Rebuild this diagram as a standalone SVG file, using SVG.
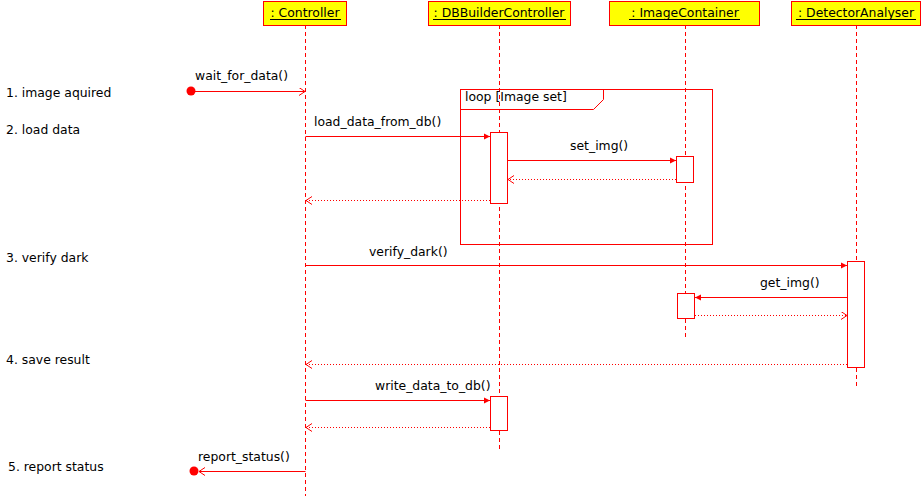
<svg xmlns="http://www.w3.org/2000/svg" width="923" height="496" viewBox="0 0 923 496">
<style>
text{font-family:"DejaVu Sans","Liberation Sans",sans-serif;font-size:12.4px;fill:#000}
.hd{fill:#ffff00;stroke:#ff0000;stroke-width:1}
.ul{stroke:#000;stroke-width:1}
.life{stroke:#ff0000;stroke-width:1;stroke-dasharray:4,3;fill:none}
.act{fill:#fff;stroke:#ff0000;stroke-width:1}
.msg{stroke:#ff0000;stroke-width:1;fill:none}
.ret{stroke:#ff0000;stroke-width:1;stroke-dasharray:1,2;fill:none}
.frame{fill:none;stroke:#ff0000;stroke-width:1}
</style>
<defs>
<marker id="fa" markerWidth="7" markerHeight="7" refX="6" refY="3.5" orient="auto" markerUnits="userSpaceOnUse"><path d="M0,0.5 L6,3.5 L0,6.5 z" fill="#ff0000"/></marker>
<marker id="oa" markerWidth="8" markerHeight="9" refX="6" refY="4" orient="auto" markerUnits="userSpaceOnUse"><path d="M0,0 L6,4 L0,8" fill="none" stroke="#ff0000" stroke-width="1"/></marker>
</defs>
<rect width="923" height="496" fill="#fff"/>

<g id="lifelines">
<line class="life" x1="305.5" y1="25" x2="305.5" y2="496"/>
<line class="life" x1="499.5" y1="25" x2="499.5" y2="449"/>
<line class="life" x1="685.5" y1="25" x2="685.5" y2="338"/>
<line class="life" x1="856.5" y1="25" x2="856.5" y2="387"/>
</g>

<g id="loop">
<rect class="frame" x="460.5" y="89.5" width="252" height="155"/>
<path class="frame" d="M460.5,109.5 H593.5 L603.5,99.5 V89.5"/>
<text x="465" y="101">loop [Image set]</text>
</g>

<g id="Controller">
<rect class="hd" x="263.5" y="1.5" width="83" height="24"/>
<text x="305" y="17" text-anchor="middle"> : Controller</text>
<line class="ul" x1="270" y1="19.5" x2="341" y2="19.5"/>
</g>
<g id="DBBuilderController">
<rect class="hd" x="428.5" y="1.5" width="142" height="24"/>
<text x="499" y="17" text-anchor="middle"> : DBBuilderController</text>
<line class="ul" x1="433" y1="19.5" x2="566" y2="19.5"/>
</g>
<g id="ImageContainer">
<rect class="hd" x="609.5" y="1.5" width="150" height="24"/>
<text x="685" y="17" text-anchor="middle"> : ImageContainer</text>
<line class="ul" x1="629" y1="19.5" x2="740" y2="19.5"/>
</g>
<g id="DetectorAnalyser">
<rect class="hd" x="791.5" y="1.5" width="129" height="24"/>
<text x="856" y="17" text-anchor="middle"> : DetectorAnalyser</text>
<line class="ul" x1="796" y1="19.5" x2="916" y2="19.5"/>
</g>

<g id="activations">
<rect class="act" x="490.5" y="132.5" width="17" height="71"/>
<rect class="act" x="676.5" y="156.5" width="17" height="26"/>
<rect class="act" x="847.5" y="261.5" width="17" height="106"/>
<rect class="act" x="677.5" y="293.5" width="17" height="25"/>
<rect class="act" x="490.5" y="396.5" width="17" height="34"/>
</g>

<g id="connectors">
<circle cx="191" cy="91" r="4.5" fill="#ff0000"/>
<line class="msg" x1="191" y1="91.5" x2="305" y2="91.5" marker-end="url(#oa)"/>
<text x="195" y="80">wait_for_data()</text>

<line class="msg" x1="305.5" y1="136.5" x2="490" y2="136.5" marker-end="url(#fa)"/>
<text x="314" y="126">load_data_from_db()</text>

<line class="msg" x1="507.5" y1="160.5" x2="676" y2="160.5" marker-end="url(#fa)"/>
<text x="570" y="150">set_img()</text>

<line class="ret" x1="676" y1="179.5" x2="508" y2="179.5" marker-end="url(#oa)"/>
<line class="ret" x1="490" y1="200.5" x2="306" y2="200.5" marker-end="url(#oa)"/>

<line class="msg" x1="305.5" y1="265.5" x2="847" y2="265.5" marker-end="url(#fa)"/>
<text x="369" y="256">verify_dark()</text>

<line class="msg" x1="847.5" y1="297.5" x2="695" y2="297.5" marker-end="url(#fa)"/>
<text x="760" y="287">get_img()</text>

<line class="ret" x1="695" y1="315.5" x2="847" y2="315.5" marker-end="url(#oa)"/>

<line class="ret" x1="847" y1="364.5" x2="306" y2="364.5" marker-end="url(#oa)"/>

<line class="msg" x1="305.5" y1="400.5" x2="490" y2="400.5" marker-end="url(#fa)"/>
<text x="375" y="390">write_data_to_db()</text>

<line class="ret" x1="490" y1="427.5" x2="306" y2="427.5" marker-end="url(#oa)"/>

<line class="msg" x1="305.5" y1="471.5" x2="199" y2="471.5" marker-end="url(#oa)"/>
<circle cx="194" cy="471" r="4.5" fill="#ff0000"/>
<text x="198" y="461">report_status()</text>
</g>

<g id="steps">
<text x="6" y="97">1. image aquired</text>
<text x="6" y="134">2. load data</text>
<text x="6" y="262">3. verify dark</text>
<text x="6" y="364">4. save result</text>
<text x="8" y="471">5. report status</text>
</g>
</svg>
